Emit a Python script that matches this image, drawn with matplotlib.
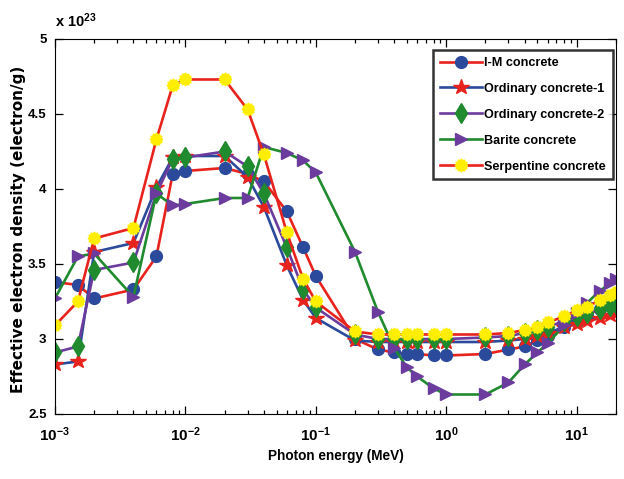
import matplotlib
matplotlib.use("Agg")
import matplotlib.pyplot as plt
from matplotlib.font_manager import FontProperties
import numpy as np

energy = [0.001, 0.0015, 0.002, 0.004, 0.006, 0.008, 0.01, 0.02, 0.03, 0.04, 0.06, 0.08, 0.1,
          0.2, 0.3, 0.4, 0.5, 0.6, 0.8, 1, 2, 3, 4, 5, 6, 8, 10, 12, 15, 18, 20]

im_concrete = [3.38, 3.36, 3.27, 3.33, 3.55, 4.10, 4.12, 4.14, 4.10, 4.05, 3.85, 3.61, 3.42,
               3.00, 2.93, 2.91, 2.90, 2.90, 2.89, 2.89, 2.90, 2.93, 2.95, 2.99, 3.02, 3.08, 3.12, 3.16, 3.20, 3.23, 3.25]
ordinary_1 = [2.83, 2.85, 3.58, 3.64, 4.01, 4.21, 4.22, 4.22, 4.08, 3.88, 3.49, 3.26, 3.14,
              2.99, 2.98, 2.98, 2.98, 2.98, 2.98, 2.98, 2.98, 2.99, 3.00, 3.02, 3.04, 3.08, 3.10, 3.12, 3.14, 3.16, 3.17]
ordinary_2 = [2.91, 2.95, 3.46, 3.51, 3.97, 4.20, 4.21, 4.25, 4.15, 3.97, 3.61, 3.33, 3.21,
              3.03, 3.00, 3.00, 3.00, 3.00, 3.00, 3.00, 3.01, 3.02, 3.04, 3.06, 3.08, 3.12, 3.15, 3.17, 3.20, 3.22, 3.23]
barite = [3.27, 3.55, 3.57, 3.28, 3.97, 3.89, 3.90, 3.94, 3.94, 4.28, 4.24, 4.19, 4.11,
          3.58, 3.18, 2.94, 2.81, 2.75, 2.67, 2.63, 2.63, 2.71, 2.83, 2.91, 2.97, 3.09, 3.17, 3.24, 3.32, 3.37, 3.40]
serpentine = [3.09, 3.25, 3.67, 3.74, 4.33, 4.69, 4.73, 4.73, 4.53, 4.23, 3.71, 3.40, 3.25,
              3.05, 3.03, 3.03, 3.03, 3.03, 3.03, 3.03, 3.03, 3.04, 3.06, 3.08, 3.11, 3.15, 3.19, 3.21, 3.26, 3.29, 3.31]

labels = ["I-M concrete", "Ordinary concrete-1", "Ordinary concrete-2", "Barite concrete", "Serpentine concrete"]
y_ticks = [2.5, 3, 3.5, 4, 4.5, 5]
y_tick_labels = ["2.5", "3", "3.5", "4", "4.5", "5"]

RED = "#e8221c"
BLUE = "#2b4a9c"
PURPLE = "#6b3c9e"
GREEN = "#1f8a2e"
YELLOW = "#ffee00"

FAM = "Liberation Sans"
plt.rcParams['font.family'] = [FAM, 'DejaVu Sans']
plt.rcParams['font.weight'] = 'bold'
plt.rcParams['mathtext.fontset'] = 'custom'
plt.rcParams['mathtext.rm'] = FAM + ':bold'
plt.rcParams['mathtext.it'] = FAM + ':bold'
plt.rcParams['mathtext.bf'] = FAM + ':bold'
plt.rcParams['axes.unicode_minus'] = False

# gear-like marker for serpentine
n_teeth = 12
ang = np.linspace(0, 2 * np.pi, 2 * n_teeth, endpoint=False)
rad = np.where(np.arange(2 * n_teeth) % 2 == 0, 1.0, 0.78)
gear = list(zip(rad * np.cos(ang), rad * np.sin(ang)))
gear.append(gear[0])

fig = plt.figure(figsize=(6.24, 4.79), dpi=100)
ax = fig.add_axes([0.088, 0.1357, 0.899, 0.7829])

series = [
    (im_concrete, RED, "o", BLUE, 8.5),
    (ordinary_1, BLUE, "*", RED, 11.5),
    (ordinary_2, PURPLE, "d", GREEN, 10.5),
    (barite, GREEN, ">", PURPLE, 8.5),
    (serpentine, RED, gear, YELLOW, 9),
]
for (vals, lc, m, mc, ms), lab in zip(series, labels):
    ax.plot(energy, vals, color=lc, lw=1.9, marker=m, markersize=ms,
            markerfacecolor=mc, markeredgecolor=mc, label=lab)

ax.set_xscale("log")
ax.set_xlim(1e-3, 20)
ax.set_ylim(2.5, 5)
ax.set_yticks(y_ticks)
ax.set_yticklabels(y_tick_labels)
ax.tick_params(which="both", direction="in", top=True, right=True, width=0.9)
ax.tick_params(which="major", length=6)
ax.tick_params(which="minor", length=3)
ax.tick_params(axis="x", which="major", pad=8, labelsize=11)
ax.tick_params(axis="y", which="major", pad=6, labelsize=9.5)
for lab in ax.get_xticklabels() + ax.get_yticklabels():
    lab.set_fontweight("bold")

ax.text(0.0, 1.025, r"x 10$^{23}$", transform=ax.transAxes, fontsize=10.5,
        fontweight="bold", ha="left", va="bottom")

ax.set_xlabel("Photon energy (MeV)", fontsize=9.8, fontweight="bold", labelpad=4)
ax.set_ylabel("Effective electron density (electron/g)", fontsize=11.0, fontweight="bold",
              family=["DejaVu Sans"])
ax.yaxis.set_label_coords(-0.051, 0.493)

leg = ax.legend(loc="upper right", bbox_to_anchor=(0.9947, 0.9707),
                prop=FontProperties(family=[FAM, 'DejaVu Sans'], weight="bold", size=9.1),
                frameon=True, fancybox=False, edgecolor="black", borderpad=0.55,
                handlelength=3.3, labelspacing=1.1, handletextpad=0.2, borderaxespad=0.0)
leg.get_frame().set_linewidth(1.8)

fig.savefig("out.png", dpi=100)
